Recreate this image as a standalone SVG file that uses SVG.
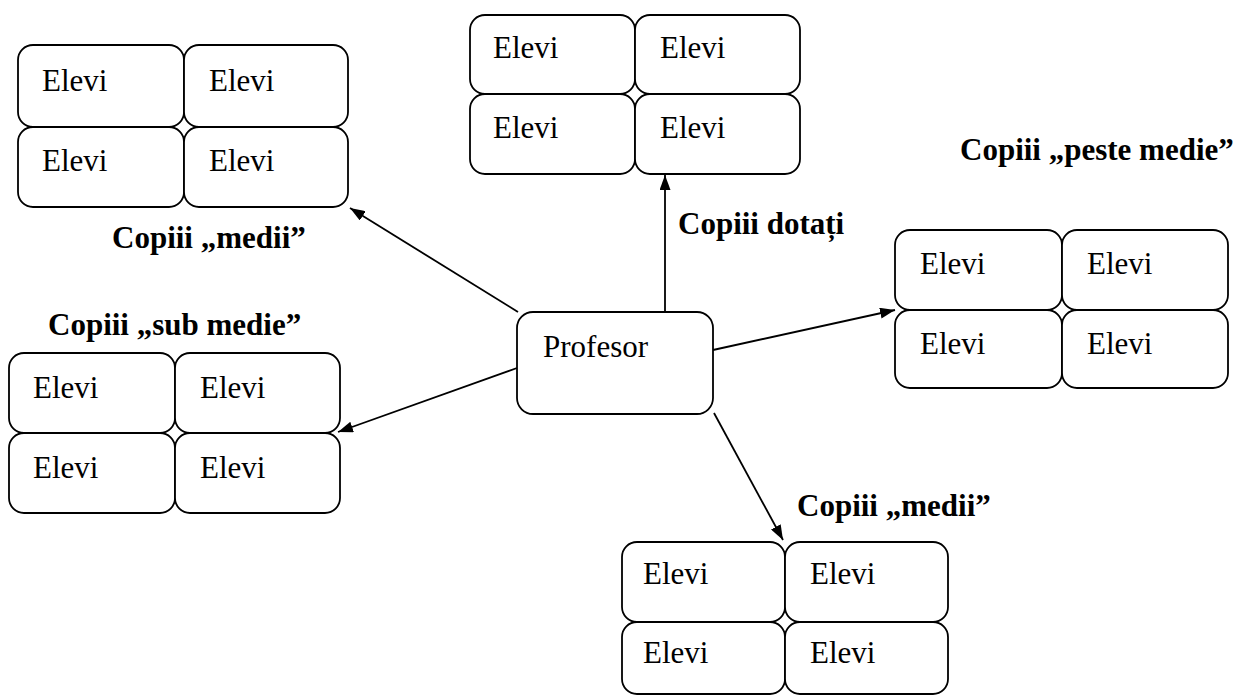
<svg xmlns="http://www.w3.org/2000/svg" width="1238" height="697" viewBox="0 0 1238 697">
<style>
.cell{fill:#fff;stroke:#000;stroke-width:1.8}
.t{font-family:'Liberation Serif','DejaVu Serif',serif;font-size:31px;fill:#000}
.lb{font-family:'Liberation Serif','DejaVu Serif',serif;font-size:31px;font-weight:bold;fill:#000}
.c{stroke:#000;stroke-width:1.8;fill:none;marker-end:url(#ah)}
</style>
<defs>
<marker id="ah" viewBox="0 0 15 11" refX="15" refY="5.5" markerWidth="15" markerHeight="11" markerUnits="userSpaceOnUse" orient="auto">
<path d="M0,0 L15,5.5 L0,11 Z" fill="#000"/>
</marker>
</defs>
<rect width="1238" height="697" fill="#fff"/>
<g id="connectors">
<line class="c" x1="518" y1="312" x2="350" y2="208"/>
<line class="c" x1="665" y1="312" x2="665" y2="175"/>
<line class="c" x1="713" y1="350" x2="895" y2="310"/>
<line class="c" x1="517" y1="368" x2="338" y2="432"/>
<line class="c" x1="714" y1="413" x2="783" y2="540"/>
</g>
<g id="profesor">
<rect class="cell" x="517" y="312" width="196" height="102" rx="16"/>
<text class="t" x="543" y="357">Profesor</text>
</g>
<g id="group-top-left">
<rect class="cell" x="18" y="45" width="166" height="82" rx="15"/>
<rect class="cell" x="184" y="45" width="164" height="82" rx="15"/>
<rect class="cell" x="18" y="127" width="166" height="80" rx="15"/>
<rect class="cell" x="184" y="127" width="164" height="80" rx="15"/>
<text class="t" x="42" y="91">Elevi</text>
<text class="t" x="209" y="91">Elevi</text>
<text class="t" x="42" y="171">Elevi</text>
<text class="t" x="209" y="171">Elevi</text>
<text class="lb" x="112" y="248">Copiii „medii”</text>
</g>
<g id="group-top-center">
<rect class="cell" x="470" y="15" width="165" height="79" rx="15"/>
<rect class="cell" x="635" y="15" width="165" height="79" rx="15"/>
<rect class="cell" x="470" y="94" width="165" height="80" rx="15"/>
<rect class="cell" x="635" y="94" width="165" height="80" rx="15"/>
<text class="t" x="493" y="58">Elevi</text>
<text class="t" x="660" y="58">Elevi</text>
<text class="t" x="493" y="138">Elevi</text>
<text class="t" x="660" y="138">Elevi</text>
<text class="lb" x="678" y="234">Copiii dotați</text>
</g>
<g id="group-right">
<rect class="cell" x="895" y="230" width="167" height="80" rx="15"/>
<rect class="cell" x="1062" y="230" width="166" height="80" rx="15"/>
<rect class="cell" x="895" y="310" width="167" height="78" rx="15"/>
<rect class="cell" x="1062" y="310" width="166" height="78" rx="15"/>
<text class="t" x="920" y="274">Elevi</text>
<text class="t" x="1087" y="274">Elevi</text>
<text class="t" x="920" y="354">Elevi</text>
<text class="t" x="1087" y="354">Elevi</text>
<text class="lb" x="960" y="160">Copiii „peste medie”</text>
</g>
<g id="group-bottom-left">
<rect class="cell" x="9" y="353" width="166" height="80" rx="15"/>
<rect class="cell" x="175" y="353" width="165" height="80" rx="15"/>
<rect class="cell" x="9" y="433" width="166" height="80" rx="15"/>
<rect class="cell" x="175" y="433" width="165" height="80" rx="15"/>
<text class="t" x="33" y="398">Elevi</text>
<text class="t" x="200" y="398">Elevi</text>
<text class="t" x="33" y="478">Elevi</text>
<text class="t" x="200" y="478">Elevi</text>
<text class="lb" x="48" y="335">Copiii „sub medie”</text>
</g>
<g id="group-bottom">
<rect class="cell" x="622" y="542" width="163" height="80" rx="15"/>
<rect class="cell" x="785" y="542" width="163" height="80" rx="15"/>
<rect class="cell" x="622" y="622" width="163" height="72" rx="15"/>
<rect class="cell" x="785" y="622" width="163" height="72" rx="15"/>
<text class="t" x="643" y="584">Elevi</text>
<text class="t" x="810" y="584">Elevi</text>
<text class="t" x="643" y="663">Elevi</text>
<text class="t" x="810" y="663">Elevi</text>
<text class="lb" x="797" y="516">Copiii „medii”</text>
</g>
</svg>
